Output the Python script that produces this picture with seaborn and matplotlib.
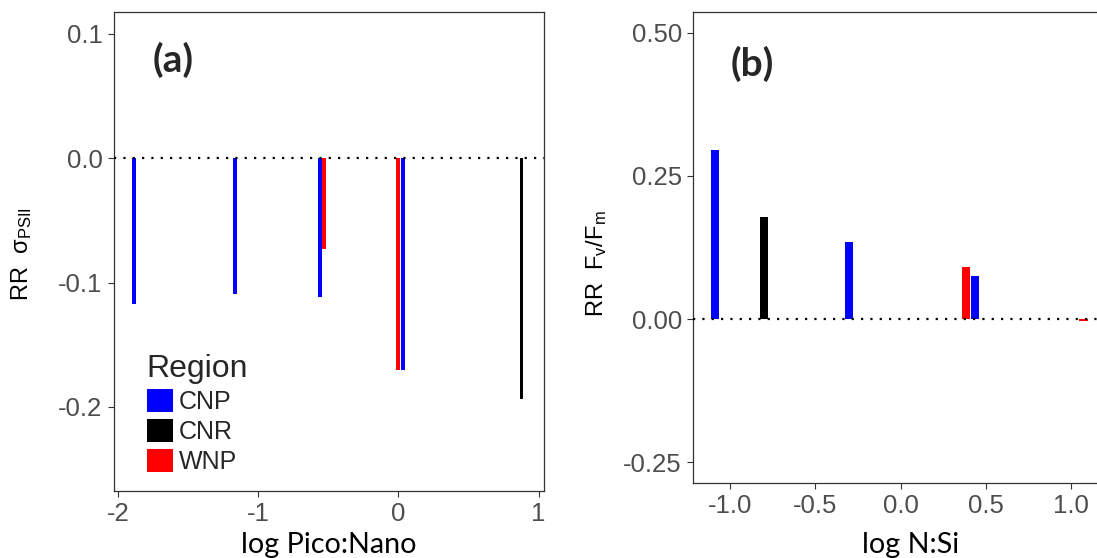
import matplotlib
matplotlib.use("Agg")
import matplotlib.pyplot as plt
import seaborn as sns
import pandas as pd

# Response ratios against log Pico:Nano (panel a)
pico_x = [-1.887, -1.163, -0.561, -0.530, 0.000, 0.034, 0.878]
pico_rr = [-0.117, -0.109, -0.112, -0.073, -0.170, -0.170, -0.194]
pico_region = ["CNP", "CNP", "CNP", "WNP", "WNP", "CNP", "CNR"]

# Response ratios against log N:Si (panel b)
nsi_x = [-1.088, -0.800, -0.303, 0.382, 0.437, 1.072]
nsi_rr = [0.296, 0.179, 0.135, 0.090, 0.076, -0.003]
nsi_region = ["CNP", "CNR", "CNP", "WNP", "CNP", "WNP"]

regions = ["CNP", "CNR", "WNP"]
region_colors = {"CNP": "#0000FF", "CNR": "#000000", "WNP": "#FF0000"}

a_xticks = [-2, -1, 0, 1]
a_xticklabels = ["-2", "-1", "0", "1"]
a_yticks = [-0.2, -0.1, 0.0, 0.1]
a_yticklabels = ["-0.2", "-0.1", "0.0", "0.1"]
b_xticks = [-1.0, -0.5, 0.0, 0.5, 1.0]
b_xticklabels = ["-1.0", "-0.5", "0.0", "0.5", "1.0"]
b_yticks = [-0.25, 0.0, 0.25, 0.50]
b_yticklabels = ["-0.25", "0.00", "0.25", "0.50"]

sns.set_theme(style="ticks")
plt.rcParams["font.family"] = ["Liberation Sans", "DejaVu Sans"]
plt.rcParams["axes.unicode_minus"] = False
plt.rcParams["mathtext.fontset"] = "custom"
plt.rcParams["mathtext.rm"] = "Liberation Sans"
plt.rcParams["mathtext.it"] = "Liberation Sans:italic"
plt.rcParams["mathtext.bf"] = "Liberation Sans:bold"

df_a = pd.DataFrame({"x": pico_x, "rr": pico_rr, "Region": pico_region})
df_b = pd.DataFrame({"x": nsi_x, "rr": nsi_rr, "Region": nsi_region})

fig = plt.figure(figsize=(10.97, 5.58), dpi=100)
ax_a = fig.add_axes([0.1036, 0.1201, 0.3920, 0.8588])
ax_b = fig.add_axes([0.6317, 0.1344, 0.3771, 0.8446])

sns.barplot(data=df_a, x="x", y="rr", hue="Region", hue_order=regions,
            palette=region_colors, native_scale=True, width=0.9,
            saturation=1, errorbar=None, linewidth=0, dodge=False, ax=ax_a)
sns.barplot(data=df_b, x="x", y="rr", hue="Region", hue_order=regions,
            palette=region_colors, native_scale=True, width=0.9,
            saturation=1, errorbar=None, linewidth=0, dodge=False,
            legend=False, ax=ax_b)

spine_col = "#333333"
tick_col = "#4D4D4D"
for ax in (ax_a, ax_b):
    ax.axhline(0, color="black", linestyle=(0, (1, 3.2)), linewidth=1.6, zorder=5)
    for s in ax.spines.values():
        s.set_visible(True)
        s.set_color(spine_col)
        s.set_linewidth(0.9)
    ax.tick_params(axis="both", direction="out", length=4.5, width=0.8,
                   color=spine_col, labelcolor=tick_col, labelsize=18.5, pad=3.5)
    ax.set_facecolor("white")

ax_a.set_xlim(-2.031, 1.036)
ax_a.set_ylim(-0.2677, 0.1178)
ax_a.set_xticks(a_xticks, a_xticklabels)
ax_a.set_yticks(a_yticks, a_yticklabels)

ax_b.set_xlim(-1.217, 1.207)
ax_b.set_ylim(-0.2864, 0.5367)
ax_b.set_xticks(b_xticks, b_xticklabels)
ax_b.set_yticks(b_yticks, b_yticklabels)

label_font = dict(family=["Lato", "DejaVu Sans"], size=20.7, color="black")
ax_a.set_xlabel("log Pico:Nano", **label_font)
ax_a.xaxis.set_label_coords(0.50, -0.085)
ax_b.set_xlabel("log N:Si", **label_font)
ax_b.xaxis.set_label_coords(0.527, -0.105)

ax_a.set_ylabel(r"RR  $\mathrm{σ_{PSII}}$", fontsize=17, color="black")
ax_a.yaxis.set_label_coords(-0.185, 0.495)
ax_b.set_ylabel(r"RR  $\mathrm{F_v/F_m}$", fontsize=17, color="black")
ax_b.yaxis.set_label_coords(-0.203, 0.465)

sns.move_legend(ax_a, "lower left", bbox_to_anchor=(0.077, 0.035),
                frameon=False, title="Region", fontsize=18,
                title_fontsize=23, handlelength=1.03, handleheight=1.06,
                labelspacing=0.2, handletextpad=0.25, borderpad=0,
                borderaxespad=0, alignment="left")

letter_font = dict(family=["Lato", "DejaVu Sans"], size=28, weight="bold",
                   ha="center", va="center")
fig.text(173 / 1097, 1 - 60 / 558, "(a)", **letter_font)
fig.text(752 / 1097, 1 - 64 / 558, "(b)", **letter_font)

fig.savefig("out.png", dpi=100, facecolor="white")
